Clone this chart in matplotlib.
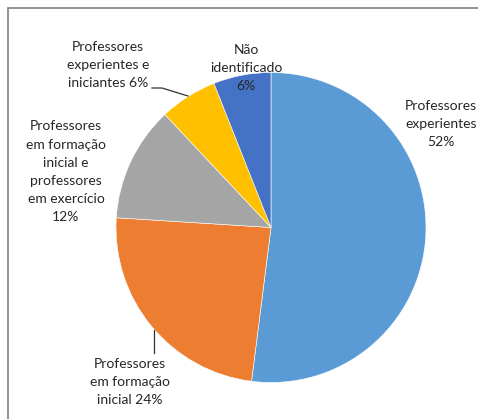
import matplotlib
matplotlib.use("Agg")
import matplotlib.pyplot as plt
from matplotlib.patches import Rectangle

categories = [
    "Professores\nexperientes",
    "Professores\nem formação\ninicial",
    "Professores\nem formação\ninicial e\nprofessores\nem exercício",
    "Professores\nexperientes e\niniciantes",
    "Não\nidentificado",
]
values = [52, 24, 12, 6, 6]
colors = ["#5B9BD5", "#ED7D31", "#A5A5A5", "#FFC000", "#4472C4"]

W, H = 478, 419
fig = plt.figure(figsize=(W / 100, H / 100), dpi=100)
ax = fig.add_axes([0, 0, 1, 1])

cx, cy, r = 271, H - 227.5, 155
ax.pie(values, colors=colors, startangle=90, counterclock=False,
       center=(cx, cy), radius=r, frame=True,
       wedgeprops=dict(edgecolor="white", linewidth=0.4))
ax.set_xlim(0, W)
ax.set_ylim(0, H)
ax.set_aspect("equal")
ax.axis("off")

# frame border
ax.add_patch(Rectangle((8, -20), W + 20, H - 8 + 20, fill=False,
                       edgecolor="#8a8a8a", linewidth=1.3, clip_on=True))

font = dict(family=["Lato", "DejaVu Sans"], fontsize=10, color="#262626",
            ha="center", va="center", linespacing=1.62)

def label(i, x, y_px):
    if i == 3:
        txt = "Professores\nexperientes e\niniciantes %d%%" % values[i]
    elif i == 1:
        txt = "Professores\nem formação\ninicial %d%%" % values[i]
    else:
        txt = categories[i] + "\n%d%%" % values[i]
    ax.text(x, H - y_px, txt, **font)

label(0, 441, 124)
label(4, 246, 68)
label(3, 108, 65)
label(2, 66, 172)
label(1, 130, 382)

# leader lines
ax.plot([152, 162, 188], [H - 88, H - 88, H - 96], color="#333333", lw=0.9)
ax.plot([154, 154], [H - 330, H - 353], color="#333333", lw=0.9)

fig.savefig("out.png", dpi=100)
